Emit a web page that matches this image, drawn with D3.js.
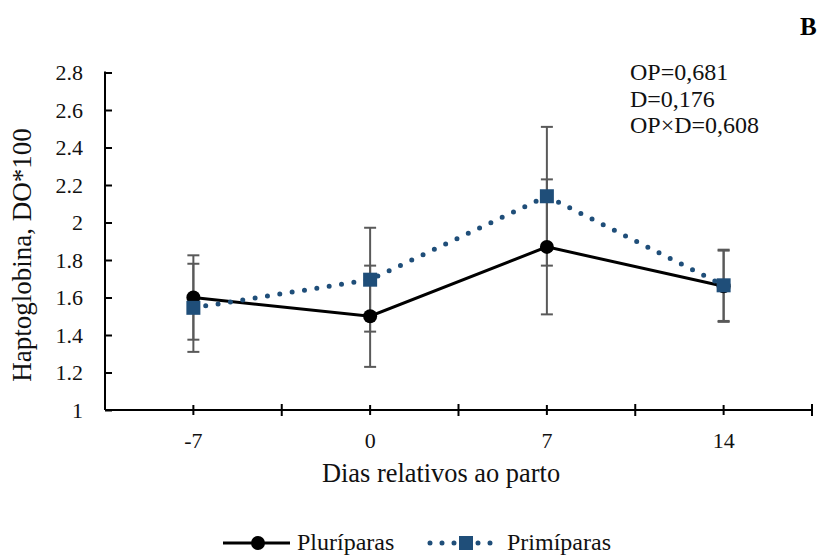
<!DOCTYPE html>
<html>
<head>
<meta charset="utf-8">
<script src="https://cdn.jsdelivr.net/npm/d3@7"></script>
<style>
  html, body { margin: 0; padding: 0; background: #fff; }
  svg { display: block; }
  svg text { font-family: 'Liberation Serif', 'DejaVu Serif', 'Times New Roman', serif; }
</style>
</head>
<body>
<svg id="chart" width="823" height="560"></svg>
<script>
const categories = ["-7", "0", "7", "14"];
const pluriparas = [1.60, 1.50, 1.87, 1.66];
const pluriErr = [0.225, 0.27, 0.36, 0.19];
const primiparas = [1.545, 1.695, 2.14, 1.665];
const primiErr = [0.235, 0.277, 0.37, 0.19];
const yTicks = [1, 1.2, 1.4, 1.6, 1.8, 2, 2.2, 2.4, 2.6, 2.8];
const seriesNames = ["Pluríparas", "Primíparas"];
const annotations = ["OP=0,681", "D=0,176", "OP×D=0,608"];
const panelLabel = "B";
const yTitle = "Haptoglobina, DO*100";
const xTitle = "Dias relativos ao parto";

(function () {
const FONT = "'Liberation Serif', 'DejaVu Serif', serif";
const svg = d3.select("#chart").attr("font-family", FONT);
const mLeft = 105, mRight = 812, mTop = 72.5, mBottom = 410;

const x = d3.scaleBand().domain(categories).range([mLeft, mRight]).padding(0);
const cx = c => x(c) + x.bandwidth() / 2;
const y = d3.scaleLinear().domain([1, 2.8]).range([mBottom, mTop]);

const black = "#000", blue = "#1f4e79", errCol = "#595959", txt = "#111";

// Y axis
const yAxis = svg.append("g").attr("transform", `translate(${mLeft},0)`)
  .call(d3.axisRight(y).tickValues(yTicks).tickSize(7).tickFormat(""));
yAxis.select(".domain").remove();
yAxis.selectAll("line").attr("stroke", black).attr("stroke-width", 2);
svg.append("line").attr("x1", mLeft).attr("x2", mLeft).attr("y1", mTop - 1).attr("y2", mBottom)
  .attr("stroke", black).attr("stroke-width", 2);
svg.append("g").selectAll("text").data(yTicks).join("text")
  .attr("x", 83).attr("y", d => y(d)).attr("dy", "0.35em")
  .attr("text-anchor", "end").attr("font-size", 22).attr("fill", txt)
  .attr("font-family", FONT)
  .text(d => String(+d.toFixed(1)));

// X axis
svg.append("line").attr("x1", mLeft).attr("x2", mRight).attr("y1", mBottom).attr("y2", mBottom)
  .attr("stroke", black).attr("stroke-width", 2);
const boundaries = categories.map(c => x(c)).concat([mRight]).slice(1);
svg.append("g").selectAll("line").data(boundaries).join("line")
  .attr("x1", d => d).attr("x2", d => d).attr("y1", mBottom - 6).attr("y2", mBottom + 6)
  .attr("stroke", black).attr("stroke-width", 2);
svg.append("g").selectAll("line").data(categories).join("line")
  .attr("x1", d => cx(d)).attr("x2", d => cx(d)).attr("y1", mBottom - 5).attr("y2", mBottom + 5)
  .attr("stroke", black).attr("stroke-width", 2);
svg.append("g").selectAll("text").data(categories).join("text")
  .attr("x", d => cx(d)).attr("y", 448).attr("text-anchor", "middle")
  .attr("font-family", FONT)
  .attr("font-size", 22).attr("fill", txt).text(d => d);

// Titles
svg.append("text").attr("x", 441).attr("y", 482).attr("text-anchor", "middle")
  .attr("font-family", FONT)
  .attr("font-size", 26.4).attr("fill", txt).text(xTitle);
svg.append("text").attr("transform", "translate(31,255) rotate(-90)")
  .attr("font-family", FONT)
  .attr("text-anchor", "middle").attr("font-size", 27).attr("fill", txt).text(yTitle);

// Error bars
function errorBars(vals, errs) {
  const g = svg.append("g");
  categories.forEach((c, i) => {
    const x0 = cx(c), hi = y(vals[i] + errs[i]), lo = y(vals[i] - errs[i]);
    g.append("line").attr("x1", x0).attr("x2", x0).attr("y1", hi).attr("y2", lo)
      .attr("stroke", errCol).attr("stroke-width", 2);
    [hi, lo].forEach(yy => g.append("line").attr("x1", x0 - 6).attr("x2", x0 + 6)
      .attr("y1", yy).attr("y2", yy).attr("stroke", errCol).attr("stroke-width", 2));
  });
}
errorBars(pluriparas, pluriErr);
errorBars(primiparas, primiErr);

const line = d3.line().x((d, i) => cx(categories[i])).y(d => y(d));

// Pluríparas
svg.append("path").datum(pluriparas).attr("d", line).attr("fill", "none")
  .attr("stroke", black).attr("stroke-width", 3);
svg.append("g").selectAll("circle").data(pluriparas).join("circle")
  .attr("cx", (d, i) => cx(categories[i])).attr("cy", d => y(d)).attr("r", 7).attr("fill", black);

// Primíparas
svg.append("path").datum(primiparas).attr("d", line).attr("fill", "none")
  .attr("stroke", blue).attr("stroke-width", 5).attr("stroke-linecap", "round")
  .attr("stroke-dasharray", "0,12.5");
svg.append("g").selectAll("rect").data(primiparas).join("rect")
  .attr("x", (d, i) => cx(categories[i]) - 7).attr("y", d => y(d) - 7)
  .attr("width", 14).attr("height", 14).attr("fill", blue);

// Annotations
svg.append("g").selectAll("text").data(annotations).join("text")
  .attr("x", 630).attr("y", (d, i) => 80 + i * 26.7)
  .attr("font-family", FONT)
  .attr("font-size", 24).attr("fill", txt).text(d => d);
svg.append("text").attr("x", 800).attr("y", 35).attr("font-size", 25)
  .attr("font-family", FONT)
  .attr("font-weight", "bold").attr("fill", "#000").text(panelLabel);

// Legend
const ly = 543;
svg.append("line").attr("x1", 223).attr("x2", 290).attr("y1", ly).attr("y2", ly)
  .attr("stroke", black).attr("stroke-width", 3);
svg.append("circle").attr("cx", 258).attr("cy", ly).attr("r", 7).attr("fill", black);
svg.append("text").attr("x", 297).attr("y", ly + 7).attr("font-size", 24).attr("fill", txt)
  .attr("font-family", FONT).text(seriesNames[0]);
svg.append("line").attr("x1", 430).attr("x2", 502).attr("y1", ly).attr("y2", ly)
  .attr("stroke", blue).attr("stroke-width", 5).attr("stroke-linecap", "round")
  .attr("stroke-dasharray", "0,12");
svg.append("rect").attr("x", 459).attr("y", ly - 7).attr("width", 14).attr("height", 14).attr("fill", blue);
svg.append("text").attr("x", 507).attr("y", ly + 7).attr("font-size", 24).attr("fill", txt)
  .attr("font-family", FONT).text(seriesNames[1]);
})();
</script>
</body>
</html>
